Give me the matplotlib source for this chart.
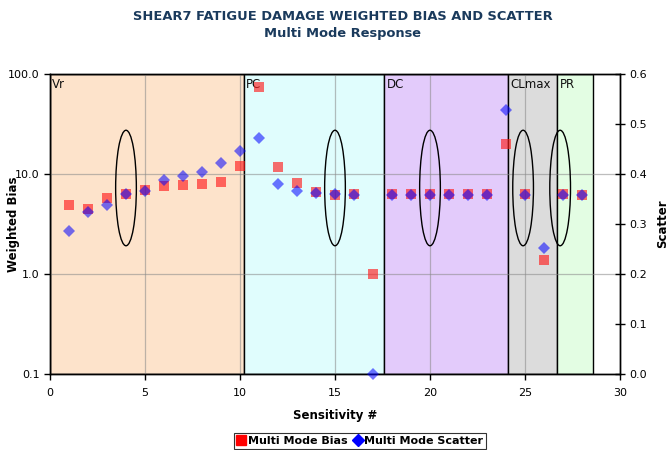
import matplotlib
matplotlib.use("Agg")
import matplotlib.pyplot as plt
from matplotlib.patches import Ellipse, Rectangle
from matplotlib.lines import Line2D
from matplotlib.ticker import FixedLocator, NullLocator, FuncFormatter

plt.rcParams['font.family'] = ['DejaVu Sans']

# ---- data ----
sensitivity = list(range(1, 29))
bias = [4.9, 4.45, 5.8, 6.25, 6.9, 7.6, 7.75, 8.0, 8.4, 12.1,
        74.5, 11.8, 8.1, 6.6, 6.2, 6.3, 1.0, 6.25, 6.25, 6.25,
        6.25, 6.25, 6.25, 20.0, 6.25, 1.37, 6.25, 6.15]
scatter = [0.287, 0.325, 0.338, 0.360, 0.367, 0.388, 0.396, 0.405, 0.423, 0.447,
           0.473, 0.381, 0.367, 0.362, 0.360, 0.359, 0.0, 0.359, 0.359, 0.359,
           0.359, 0.359, 0.359, 0.528, 0.359, 0.253, 0.359, 0.358]

region_names = ["Vr", "PC", "DC", "CLmax", "PR"]
region_start = [0.0, 10.2, 17.6, 24.1, 26.7]
region_end = [10.2, 17.6, 24.1, 26.7, 28.6]
region_colors = ["#FDE3CB", "#E0FDFD", "#E3CBFB", "#DCDCDC", "#E3FDE3"]

ellipse_x = [4.0, 15.0, 20.0, 24.9, 26.85]

x_ticks = [0, 5, 10, 15, 20, 25, 30]
left_ticks = [0.1, 1.0, 10.0, 100.0]
right_ticks = [0.0, 0.1, 0.2, 0.3, 0.4, 0.5, 0.6]

# ---- figure ----
W, H = 670, 450
fig = plt.figure(figsize=(W / 100, H / 100), dpi=100)
L, R, T, B = 50, 620, 74, 374
ax = fig.add_axes([L / W, 1 - B / H, (R - L) / W, (B - T) / H])
ax.set_yscale('log')
ax.set_xlim(0, 30)
ax.set_ylim(0.1, 100)

for name, s, e, c in zip(region_names, region_start, region_end, region_colors):
    ax.add_patch(Rectangle((s, 0), e - s, 1, transform=ax.get_xaxis_transform(),
                           facecolor=c, edgecolor='black', lw=1.0, zorder=0.5))
    ax.text(s + 0.12, 0.985, name, transform=ax.get_xaxis_transform(),
            ha='left', va='top', fontsize=8.5, color='#111111', zorder=3)

ax.xaxis.set_major_locator(FixedLocator(x_ticks))
ax.yaxis.set_major_locator(FixedLocator(left_ticks))
ax.yaxis.set_minor_locator(NullLocator())
ax.yaxis.set_major_formatter(FuncFormatter(lambda v, p: f"{v:.1f}"))
ax.grid(True, color='#888888', lw=0.9, alpha=0.55, zorder=1)
ax.set_axisbelow(False)
for gl in ax.get_xgridlines() + ax.get_ygridlines():
    gl.set_zorder(1)
ax.tick_params(axis='both', which='major', direction='out', length=4,
               labelsize=8, colors='black', width=1)
ax.tick_params(axis='x', pad=6)
for sp in ax.spines.values():
    sp.set_color('black')
    sp.set_linewidth(1.0)

ax.plot(sensitivity, bias, linestyle='none', marker='s', markersize=7.5,
        markeredgewidth=0, color='#FF1A1A', alpha=0.64, zorder=4, clip_on=False)

ax2 = ax.twinx()
ax2.set_ylim(0, 0.6)
ax2.yaxis.set_major_locator(FixedLocator(right_ticks))
ax2.yaxis.set_major_formatter(FuncFormatter(lambda v, p: f"{v:.1f}"))
ax2.tick_params(axis='y', direction='inout', length=7, labelsize=8, width=1, pad=3)
for sp in ax2.spines.values():
    sp.set_color('black')
    sp.set_linewidth(1.0)

ax2.plot(sensitivity, scatter, linestyle='none', marker='D', markersize=6.2,
         markeredgewidth=0, color='#0000FF', alpha=0.55, zorder=5, clip_on=False)

for xc in ellipse_x:
    ax2.add_patch(Ellipse((xc, 0.372), 1.09, 0.231, facecolor='none',
                          edgecolor='black', lw=1.0, zorder=6))

# ---- texts ----
title_col = '#1A3A5C'
fig.text(343 / W, 1 - 16 / H, "SHEAR7 FATIGUE DAMAGE WEIGHTED BIAS AND SCATTER",
         ha='center', va='center', fontsize=9.4, fontweight='bold', color=title_col)
fig.text(343 / W, 1 - 33 / H, "Multi Mode Response",
         ha='center', va='center', fontsize=9.4, fontweight='bold', color=title_col)
fig.text((L + R) / 2 / W, 1 - 415 / H, "Sensitivity #", ha='center', va='center',
         fontsize=8.5, fontweight='bold')
fig.text(14 / W, 1 - 224 / H, "Weighted Bias", ha='center', va='center',
         rotation=90, fontsize=8.5, fontweight='bold')
fig.text(663 / W, 1 - 224 / H, "Scatter", ha='center', va='center',
         rotation=90, fontsize=8.5, fontweight='bold')

handles = [Line2D([], [], linestyle='none', marker='s', color='#FF0000', markersize=7),
           Line2D([], [], linestyle='none', marker='D', color='#0000FF', markersize=6)]
leg = fig.legend(handles, ["Multi Mode Bias", "Multi Mode Scatter"], loc='center',
                 bbox_to_anchor=(360 / W, 1 - 441 / H), ncol=2, frameon=True,
                 fancybox=False, edgecolor='black', handlelength=0.8,
                 handletextpad=0.2, columnspacing=0.5, borderpad=0.25,
                 prop={'size': 8, 'weight': 'bold'})
leg.get_frame().set_linewidth(0.8)

fig.savefig("out.png", dpi=100)
